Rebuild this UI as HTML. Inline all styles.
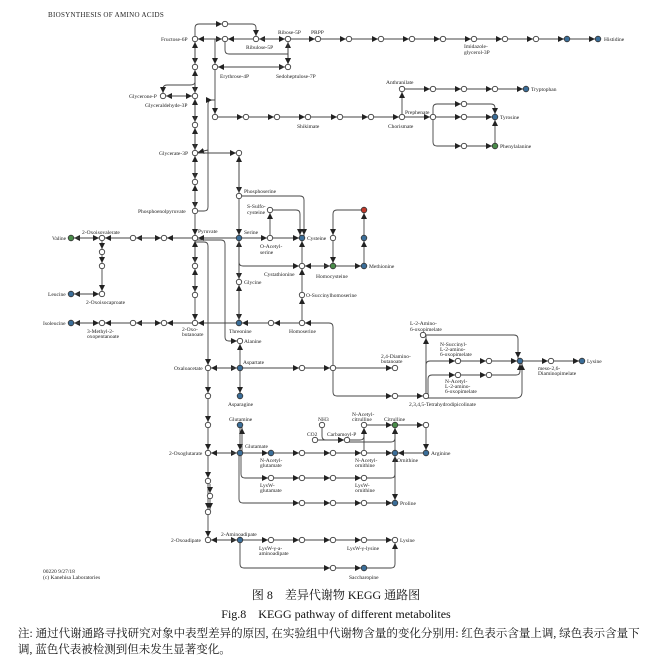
<!DOCTYPE html>
<html><head><meta charset="utf-8"><style>
html,body{margin:0;padding:0;background:#fff;}
svg{display:block}
text{font-family:"Liberation Serif",serif;font-size:5.5px;fill:#222}
.c{font-family:"Liberation Serif","Noto Serif CJK SC","Noto Sans CJK SC",serif;fill:#111}
</style></head><body>
<svg width="672" height="668" viewBox="0 0 672 668" xmlns="http://www.w3.org/2000/svg">
<defs><marker id="a" markerUnits="userSpaceOnUse" markerWidth="6" markerHeight="6" refX="9" refY="3" orient="auto"><path d="M0,0 L6,3 L0,6z" fill="#222"/></marker></defs>
<rect width="672" height="668" fill="#fff"/>
<text x="48" y="17" style="font-size:7px;letter-spacing:0.3px">BIOSYNTHESIS OF AMINO ACIDS</text>
<g stroke="#444" stroke-width="0.9" fill="none" marker-end="url(#a)">
<!-- main column -->
<path d="M195,39 L195,67"/><path d="M195,67 L195,39"/>
<path d="M195,67 L195,96"/><path d="M195,96 L195,67"/>
<path d="M195,96 L195,125"/><path d="M195,125 L195,96"/>
<path d="M195,125 L195,153"/><path d="M195,153 L195,125"/>
<path d="M195,153 L195,182"/><path d="M195,182 L195,153"/>
<path d="M195,182 L195,211"/><path d="M195,211 L195,182"/>
<path d="M195,211 L195,238"/>
<path d="M195,238 L195,266"/><path d="M195,266 L195,238"/>
<path d="M195,266 L195,295"/><path d="M195,295 L195,266"/>
<path d="M195,295 L195,323"/>
<path d="M195,39 L225,39"/><path d="M225,39 L195,39"/>
<path d="M195,39 L195,28 Q195,24 199,24 L225,24"/><path d="M225,24 L252,24 Q256,24 256,28 L256,39"/>
<path d="M256,39 L225,39"/><path d="M288,39 L256,39"/><path d="M256,39 L288,39"/>
<path d="M288,39 L318,39"/>
<path d="M318,39 L349,39"/><path d="M349,39 L381,39"/><path d="M381,39 L412,39"/><path d="M412,39 L443,39"/><path d="M443,39 L474,39"/><path d="M474,39 L505,39"/><path d="M505,39 L536,39"/><path d="M536,39 L567,39"/><path d="M567,39 L598,39"/>
<path d="M288,67 L288,39"/><path d="M288,39 L288,67"/>
<path d="M225,39 L225,50 Q225,54 229,54 L288,54 L288,67"/>
<path d="M215,67 L288,67"/><path d="M288,67 L215,67"/>
<path d="M215,39 L215,67"/>
<path d="M215,67 L215,117"/>
<path d="M195,82 Q195,85 190,85 L167,85 Q163,85 163,89 L163,96"/>
<path d="M195,96 L163,96"/><path d="M163,96 L195,96"/>
<path d="M215,117 L246,117"/><path d="M246,117 L277,117"/><path d="M277,117 L308,117"/><path d="M308,117 L340,117"/><path d="M340,117 L371,117"/><path d="M371,117 L402,117"/>
<path d="M402,117 L402,89"/><path d="M402,89 L433,89"/><path d="M433,89 L464,89"/><path d="M464,89 L495,89"/><path d="M495,89 L526,89"/>
<path d="M402,117 L433,117"/><path d="M433,117 L464,117"/><path d="M464,117 L495,117"/>
<path d="M433,117 L433,108 Q433,104 437,104 L464,104"/><path d="M464,104 L491,104 Q495,104 495,108 L495,117"/>
<path d="M433,117 L433,142 Q433,146 437,146 L464,146"/><path d="M464,146 L495,146"/><path d="M495,146 L495,117"/>
<path d="M195,211 L204,211 Q208,211 208,207 L208,104 Q208,100 212,100 L215,100"/>
<path d="M208,150 L195,153"/>
<path d="M195,153 L239,153"/>
<!-- serine column -->
<path d="M239,153 L239,196"/><path d="M239,196 L239,153"/>
<path d="M239,196 L239,238"/>
<path d="M239,196 L300,196 Q304,196 304,200 L304,238"/>
<path d="M239,238 L195,238"/>
<path d="M239,238 L270,238"/><path d="M270,238 L270,210"/><path d="M270,210 L296,210 Q300,210 300,214 L300,238"/>
<path d="M270,238 L302,238"/>
<path d="M239,238 L239,282"/><path d="M239,282 L239,238"/>
<path d="M239,282 L239,323"/><path d="M239,323 L239,282"/>
<path d="M239,238 L239,262 Q239,266 243,266 L302,266"/>
<path d="M302,266 L302,238"/>
<path d="M302,266 L333,266"/><path d="M333,266 L302,266"/>
<path d="M302,295 L302,266"/>
<path d="M302,323 L302,295"/>
<path d="M333,266 L364,266"/>
<path d="M333,238 L333,266"/>
<path d="M364,210 L337,210 Q333,210 333,214 L333,238"/>
<path d="M364,266 L364,238"/><path d="M364,238 L364,210"/>
<path d="M302,323 L271,323"/><path d="M271,323 L239,323"/><path d="M239,323 L195,323"/>
<path d="M333,368 L333,327 Q333,323 329,323 L302,323"/>
<path d="M195,240 L221,240 Q225,240 225,244 L225,337 Q225,341 229,341 L240,341"/>
<path d="M195,242 L204,242 Q208,242 208,246 L208,368"/>
<!-- left -->
<path d="M195,238 L164,238"/><path d="M164,238 L133,238"/><path d="M133,238 L164,238"/><path d="M133,238 L102,238"/><path d="M102,238 L71,238"/><path d="M71,238 L102,238"/>
<path d="M102,238 L102,252"/><path d="M102,252 L102,266"/><path d="M102,266 L102,294"/>
<path d="M102,294 L71,294"/><path d="M71,294 L102,294"/>
<path d="M195,323 L164,323"/><path d="M164,323 L133,323"/><path d="M133,323 L164,323"/><path d="M133,323 L102,323"/><path d="M102,323 L71,323"/><path d="M71,323 L102,323"/>
<!-- oxaloacetate column -->
<path d="M208,368 L240,368"/><path d="M240,368 L208,368"/>
<path d="M240,368 L240,341"/><path d="M240,368 L240,396"/>
<path d="M208,368 L208,396"/><path d="M208,396 L208,425"/><path d="M208,425 L208,453"/>
<path d="M208,453 L208,481"/><path d="M208,481 L208,512"/><path d="M210,484 L210,496"/><path d="M210,496 L210,512"/>
<path d="M208,512 L208,540"/>
<path d="M240,368 L302,368"/><path d="M302,368 L333,368"/><path d="M333,368 L395,368"/>
<path d="M333,368 L333,392 Q333,396 337,396 L395,396"/><path d="M395,396 L426,396"/>
<path d="M426,396 L426,335"/><path d="M426,335 L514,335 Q518,335 518,339 L518,361"/>
<path d="M426,396 L426,365 Q426,361 430,361 L458,361"/><path d="M458,361 L489,361"/><path d="M489,361 L520,361"/>
<path d="M428,396 L428,379 Q428,375 432,375 L458,375"/><path d="M458,375 L489,375"/><path d="M489,375 L516,375 Q520,375 520,371 L520,361"/>
<path d="M428,398 L516,398 Q522,398 522,392 L522,361"/>
<path d="M520,361 L551,361"/><path d="M551,361 L582,361"/>
<!-- glutamate -->
<path d="M208,453 L240,453"/><path d="M240,453 L208,453"/>
<path d="M240,425 L240,453"/><path d="M242,453 L242,425"/>
<path d="M240,453 L271,453"/><path d="M271,453 L302,453"/><path d="M302,453 L333,453"/><path d="M333,453 L364,453"/><path d="M364,453 L395,453"/>
<path d="M426,453 L395,453"/><path d="M426,425 L426,453"/>
<path d="M364,453 L364,425"/><path d="M364,425 L395,425"/><path d="M395,425 L426,425"/>
<path d="M395,453 L395,425"/>
<path d="M315,440 L347,440"/><path d="M322,425 L322,436 Q322,440 326,440 L347,440"/>
<path d="M347,440 L360,440 Q364,440 364,436 L364,425"/>
<path d="M347,442 L391,442 Q395,442 395,438 L395,425"/>
<path d="M241,453 L241,474 Q241,478 245,478 L271,478"/><path d="M271,478 L302,478"/><path d="M302,478 L333,478"/><path d="M333,478 L364,478"/><path d="M364,478 L391,478 Q395,478 395,474 L395,453"/>
<path d="M395,453 L395,503"/>
<path d="M239,453 L239,499 Q239,503 243,503 L302,503"/><path d="M302,503 L333,503"/><path d="M333,503 L364,503"/><path d="M364,503 L395,503"/>
<!-- adipate -->
<path d="M208,540 L240,540"/><path d="M240,540 L208,540"/>
<path d="M240,540 L271,540"/><path d="M271,540 L302,540"/><path d="M302,540 L333,540"/><path d="M333,540 L364,540"/><path d="M364,540 L395,540"/>
<path d="M240,540 L240,564 Q240,568 244,568 L333,568"/><path d="M333,568 L364,568"/><path d="M364,568 L391,568 Q395,568 395,564 L395,540"/>
</g>
<g stroke="#333" stroke-width="0.8" fill="#fff">
<circle cx="195" cy="39" r="2.7"/><circle cx="195" cy="67" r="2.7"/><circle cx="195" cy="96" r="2.7"/><circle cx="195" cy="125" r="2.7"/><circle cx="195" cy="153" r="2.7"/><circle cx="195" cy="182" r="2.7"/><circle cx="195" cy="211" r="2.7"/><circle cx="195" cy="238" r="2.7"/><circle cx="195" cy="266" r="2.7"/><circle cx="195" cy="295" r="2.7"/><circle cx="195" cy="323" r="2.7"/>
<circle cx="225" cy="24" r="2.7"/><circle cx="225" cy="39" r="2.7"/><circle cx="256" cy="39" r="2.7"/><circle cx="288" cy="39" r="2.7"/><circle cx="318" cy="39" r="2.7"/><circle cx="349" cy="39" r="2.7"/><circle cx="381" cy="39" r="2.7"/><circle cx="412" cy="39" r="2.7"/><circle cx="443" cy="39" r="2.7"/><circle cx="474" cy="39" r="2.7"/><circle cx="505" cy="39" r="2.7"/><circle cx="536" cy="39" r="2.7"/>
<circle cx="288" cy="67" r="2.7"/><circle cx="215" cy="67" r="2.7"/><circle cx="163" cy="96" r="2.7"/>
<circle cx="215" cy="117" r="2.7"/><circle cx="246" cy="117" r="2.7"/><circle cx="277" cy="117" r="2.7"/><circle cx="308" cy="117" r="2.7"/><circle cx="340" cy="117" r="2.7"/><circle cx="371" cy="117" r="2.7"/><circle cx="402" cy="117" r="2.7"/>
<circle cx="402" cy="89" r="2.7"/><circle cx="433" cy="89" r="2.7"/><circle cx="464" cy="89" r="2.7"/><circle cx="495" cy="89" r="2.7"/>
<circle cx="433" cy="117" r="2.7"/><circle cx="464" cy="117" r="2.7"/><circle cx="464" cy="104" r="2.7"/><circle cx="464" cy="146" r="2.7"/>
<circle cx="239" cy="153" r="2.7"/><circle cx="239" cy="196" r="2.7"/><circle cx="270" cy="210" r="2.7"/><circle cx="270" cy="238" r="2.7"/><circle cx="302" cy="266" r="2.7"/><circle cx="302" cy="295" r="2.7"/><circle cx="302" cy="323" r="2.7"/><circle cx="271" cy="323" r="2.7"/><circle cx="333" cy="238" r="2.7"/><circle cx="239" cy="282" r="2.7"/><circle cx="240" cy="341" r="2.7"/>
<circle cx="164" cy="238" r="2.7"/><circle cx="133" cy="238" r="2.7"/><circle cx="102" cy="238" r="2.7"/><circle cx="102" cy="252" r="2.7"/><circle cx="102" cy="266" r="2.7"/><circle cx="102" cy="294" r="2.7"/>
<circle cx="164" cy="323" r="2.7"/><circle cx="133" cy="323" r="2.7"/><circle cx="102" cy="323" r="2.7"/>
<circle cx="208" cy="368" r="2.7"/><circle cx="208" cy="396" r="2.7"/><circle cx="208" cy="425" r="2.7"/><circle cx="208" cy="453" r="2.7"/><circle cx="208" cy="481" r="2.7"/><circle cx="210" cy="496" r="2.7"/><circle cx="208" cy="512" r="2.7"/><circle cx="208" cy="540" r="2.7"/>
<circle cx="302" cy="368" r="2.7"/><circle cx="333" cy="368" r="2.7"/><circle cx="395" cy="368" r="2.7"/><circle cx="395" cy="396" r="2.7"/><circle cx="426" cy="396" r="2.7"/><circle cx="423" cy="335" r="2.7"/><circle cx="458" cy="361" r="2.7"/><circle cx="489" cy="361" r="2.7"/><circle cx="551" cy="361" r="2.7"/><circle cx="458" cy="375" r="2.7"/><circle cx="489" cy="375" r="2.7"/>
<circle cx="302" cy="453" r="2.7"/><circle cx="333" cy="453" r="2.7"/><circle cx="364" cy="453" r="2.7"/><circle cx="364" cy="425" r="2.7"/><circle cx="426" cy="425" r="2.7"/><circle cx="322" cy="425" r="2.7"/><circle cx="315" cy="440" r="2.7"/><circle cx="347" cy="440" r="2.7"/>
<circle cx="271" cy="478" r="2.7"/><circle cx="302" cy="478" r="2.7"/><circle cx="333" cy="478" r="2.7"/><circle cx="364" cy="478" r="2.7"/>
<circle cx="302" cy="503" r="2.7"/><circle cx="333" cy="503" r="2.7"/><circle cx="364" cy="503" r="2.7"/>
<circle cx="271" cy="540" r="2.7"/><circle cx="302" cy="540" r="2.7"/><circle cx="333" cy="540" r="2.7"/><circle cx="364" cy="540" r="2.7"/><circle cx="395" cy="540" r="2.7"/><circle cx="333" cy="568" r="2.7"/>
</g>
<g stroke="#333" stroke-width="0.8" fill="#3b6e99">
<circle cx="567" cy="39" r="2.8"/><circle cx="598" cy="39" r="2.8"/><circle cx="526" cy="89" r="2.8"/><circle cx="495" cy="117" r="2.8"/>
<circle cx="239" cy="238" r="2.8"/><circle cx="302" cy="238" r="2.8"/><circle cx="364" cy="238" r="2.8"/><circle cx="364" cy="266" r="2.8"/><circle cx="239" cy="323" r="2.8"/>
<circle cx="71" cy="294" r="2.8"/><circle cx="71" cy="323" r="2.8"/>
<circle cx="240" cy="368" r="2.8"/><circle cx="240" cy="396" r="2.8"/><circle cx="240" cy="425" r="2.8"/><circle cx="240" cy="453" r="2.8"/><circle cx="271" cy="453" r="2.8"/><circle cx="395" cy="453" r="2.8"/><circle cx="426" cy="453" r="2.8"/><circle cx="395" cy="503" r="2.8"/>
<circle cx="520" cy="361" r="2.8"/><circle cx="582" cy="361" r="2.8"/><circle cx="240" cy="540" r="2.8"/><circle cx="364" cy="568" r="2.8"/>
</g>
<g stroke="#333" stroke-width="0.8" fill="#4a8c4a">
<circle cx="495" cy="146" r="2.8"/><circle cx="333" cy="266" r="2.8"/><circle cx="71" cy="238" r="2.8"/><circle cx="395" cy="425" r="2.8"/>
</g>
<circle cx="364" cy="210" r="2.8" fill="#c0392b" stroke="#333" stroke-width="0.8"/>
<g>
<text x="161" y="41">Fructose-6P</text>
<text x="246" y="49">Ribulose-5P</text>
<text x="278" y="34">Ribose-5P</text>
<text x="311" y="34">PRPP</text>
<text x="464" y="48">Imidazole-</text><text x="464" y="54">glycerol-3P</text>
<text x="604" y="41">Histidine</text>
<text x="220" y="78">Erythrose-4P</text>
<text x="276" y="78">Sedoheptulose-7P</text>
<text x="129" y="98">Glycerone-P</text>
<text x="145" y="107">Glyceraldehyde-3P</text>
<text x="297" y="128">Shikimate</text>
<text x="388" y="128">Chorismate</text>
<text x="386" y="84">Anthranilate</text>
<text x="405" y="114">Prephenate</text>
<text x="531" y="91">Tryptophan</text>
<text x="500" y="119">Tyrosine</text>
<text x="500" y="148">Phenylalanine</text>
<text x="159" y="155">Glycerate-3P</text>
<text x="138" y="213">Phosphoenolpyruvate</text>
<text x="244" y="193">Phosphoserine</text>
<text x="247" y="208">S-Sulfo-</text><text x="247" y="214">cysteine</text>
<text x="198" y="233">Pyruvate</text>
<text x="244" y="234">Serine</text>
<text x="307" y="240">Cysteine</text>
<text x="260" y="248">O-Acetyl-</text><text x="260" y="254">serine</text>
<text x="264" y="276">Cystathionine</text>
<text x="316" y="278">Homocysteine</text>
<text x="369" y="268">Methionine</text>
<text x="244" y="284">Glycine</text>
<text x="306" y="297">O-Succinylhomoserine</text>
<text x="229" y="333">Threonine</text>
<text x="289" y="333">Homoserine</text>
<text x="244" y="343">Alanine</text>
<text x="82" y="234">2-Oxoisovalerate</text>
<text x="52" y="240">Valine</text>
<text x="48" y="296">Leucine</text>
<text x="86" y="304">2-Oxoisocaproate</text>
<text x="43" y="325">Isoleucine</text>
<text x="87" y="333">3-Methyl-2-</text><text x="87" y="338">oxopentanoate</text>
<text x="182" y="331">2-Oxo-</text><text x="182" y="336">butanoate</text>
<text x="174" y="370">Oxaloacetate</text>
<text x="243" y="364">Aspartate</text>
<text x="228" y="406">Asparagine</text>
<text x="229" y="421">Glutamine</text>
<text x="245" y="448">Glutamate</text>
<text x="169" y="455">2-Oxoglutarate</text>
<text x="171" y="542">2-Oxoadipate</text>
<text x="381" y="358">2,4-Diamino-</text><text x="381" y="363">butanoate</text>
<text x="410" y="325">L-2-Amino-</text><text x="410" y="331">6-oxopimelate</text>
<text x="440" y="346">N-Succinyl-</text><text x="440" y="351">L-2-amino-</text><text x="440" y="356">6-oxopimelate</text>
<text x="445" y="383">N-Acetyl-</text><text x="445" y="388">L-2-amino-</text><text x="445" y="393">6-oxopimelate</text>
<text x="538" y="370">meso-2,6-</text><text x="538" y="375">Diaminopimelate</text>
<text x="587" y="363">Lysine</text>
<text x="409" y="406">2,3,4,5-Tetrahydrodipicolinate</text>
<text x="318" y="421">NH3</text>
<text x="307" y="436">CO2</text>
<text x="327" y="436">Carbamoyl-P</text>
<text x="352" y="416">N-Acetyl-</text><text x="352" y="421">citrulline</text>
<text x="384" y="421">Citrulline</text>
<text x="431" y="455">Arginine</text>
<text x="260" y="462">N-Acetyl-</text><text x="260" y="467">glutamate</text>
<text x="355" y="462">N-Acetyl-</text><text x="355" y="467">ornithine</text>
<text x="397" y="462">Ornithine</text>
<text x="260" y="487">LysW-</text><text x="260" y="492">glutamate</text>
<text x="355" y="487">LysW-</text><text x="355" y="492">ornithine</text>
<text x="400" y="505">Proline</text>
<text x="221" y="536">2-Aminoadipate</text>
<text x="259" y="550">LysW-γ-a-</text><text x="259" y="555">aminoadipate</text>
<text x="347" y="550">LysW-γ-lysine</text>
<text x="400" y="542">Lysine</text>
<text x="349" y="579">Saccharopine</text>
<text x="43" y="573">00220 9/27/18</text><text x="43" y="579">(c) Kanehisa Laboratories</text>
</g>
<text class="c" x="336" y="599" text-anchor="middle" style="font-size:12px">图 8　差异代谢物 KEGG 通路图</text>
<text class="c" x="336" y="618" text-anchor="middle" style="font-size:12px">Fig.8　KEGG pathway of different metabolites</text>
<text class="c" x="18" y="637" style="font-size:11.5px">注: 通过代谢通路寻找研究对象中表型差异的原因, 在实验组中代谢物含量的变化分别用: 红色表示含量上调, 绿色表示含量下</text>
<text class="c" x="18" y="653" style="font-size:11.5px">调, 蓝色代表被检测到但未发生显著变化。</text>
</svg>
</body></html>
